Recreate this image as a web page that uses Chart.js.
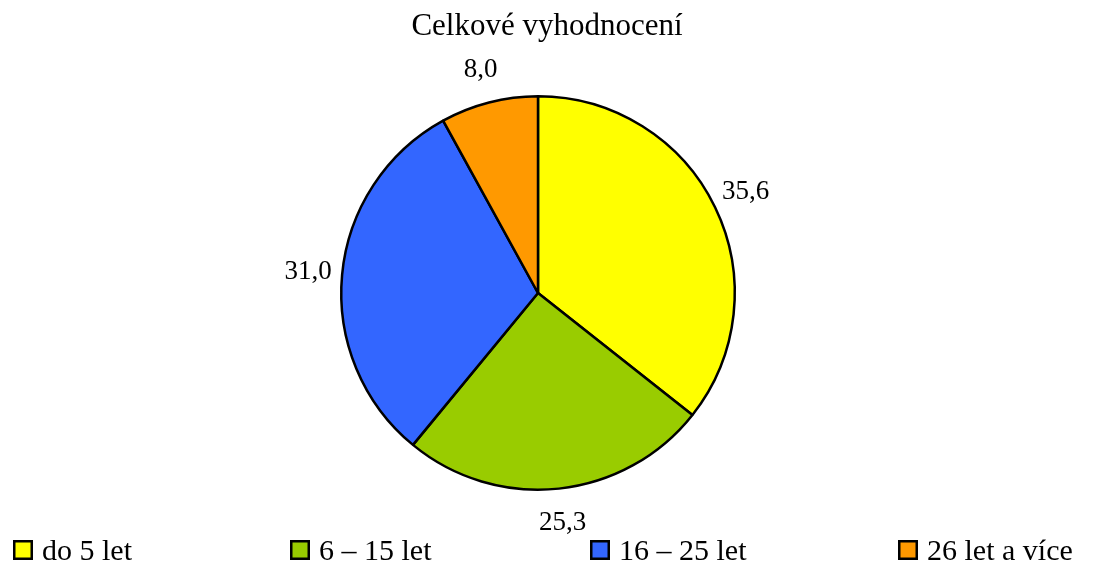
<!DOCTYPE html>
<html>
<head>
<meta charset="utf-8">
<script src="https://cdn.jsdelivr.net/npm/chart.js@4"></script>
<style>
  html, body { margin: 0; padding: 0; background: #fff; }
  #wrap { width: 1096px; height: 567px; }
</style>
</head>
<body>
<div id="wrap"><canvas id="pieChart"></canvas></div>
<script>
// data
const categories = ['do 5 let', '6 – 15 let', '16 – 25 let', '26 let a více'];
const values = [35.6, 25.3, 31.0, 8.0];
const colors = ['#FFFF00', '#99CC00', '#3366FF', '#FF9900'];
const chartTitle = 'Celkové vyhodnocení';

const serif = '"Liberation Serif", "Times New Roman", serif';

// title, outside labels and legend drawn by hand
const decorPlugin = {
  id: 'decor',
  afterDraw(chart) {
    const ctx = chart.ctx;
    ctx.save();
    ctx.fillStyle = '#000';

    // title
    ctx.font = '31px ' + serif;
    ctx.textAlign = 'center';
    ctx.textBaseline = 'alphabetic';
    ctx.fillText(chartTitle, 547, 35);

    // value labels outside the slices
    const meta = chart.getDatasetMeta(0);
    ctx.font = '27px ' + serif;
    ctx.textBaseline = 'middle';
    meta.data.forEach((arc, i) => {
      const mid = (arc.startAngle + arc.endAngle) / 2;
      const r = arc.outerRadius + 34;
      const x = arc.x + Math.cos(mid) * r;
      const y = arc.y + Math.sin(mid) * r;
      ctx.fillText(values[i].toFixed(1).replace('.', ','), x, y);
    });

    // legend
    const legendX = [13, 290, 590, 898];
    ctx.font = '30px ' + serif;
    ctx.textAlign = 'left';
    ctx.textBaseline = 'alphabetic';
    chart.data.labels.forEach((lab, i) => {
      const bx = legendX[i];
      ctx.fillStyle = chart.data.datasets[0].backgroundColor[i];
      ctx.fillRect(bx, 540, 20, 20);
      ctx.lineWidth = 2.5;
      ctx.strokeStyle = '#000';
      ctx.strokeRect(bx + 1.25, 541.25, 17.5, 17.5);
      ctx.fillStyle = '#000';
      ctx.fillText(lab, bx + 29, 560);
    });
    ctx.restore();
  }
};

const pieCtx = document.getElementById('pieChart').getContext('2d');
const pieChart = new Chart(pieCtx, {
  type: 'pie',
  data: {
    labels: categories,
    datasets: [{
      data: values,
      backgroundColor: colors,
      borderColor: '#000',
      borderWidth: 2.5,
      borderAlign: 'center'
    }]
  },
  options: {
    responsive: true,
    maintainAspectRatio: false,
    animation: false,
    layout: { padding: { top: 95, bottom: 76, left: 0, right: 20 } },
    plugins: {
      legend: { display: false },
      title: { display: false },
      tooltip: { enabled: false }
    }
  },
  plugins: [decorPlugin]
});
</script>
</body>
</html>
